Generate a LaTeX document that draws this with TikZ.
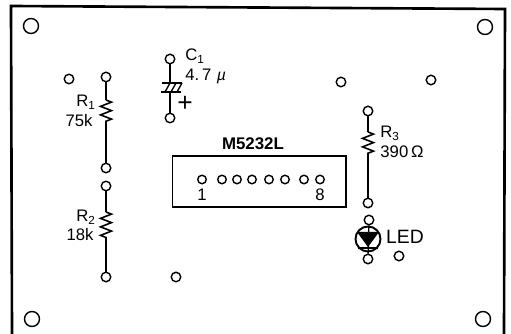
\documentclass[tikz,border=0pt]{standalone}
\usepackage{fontspec}
\setmainfont{Liberation Sans}
\usetikzlibrary{decorations.pathmorphing}
\tikzset{
  pad/.style={circle,draw,line width=0.8pt,inner sep=0pt,minimum size=0.19cm},
  hole/.style={circle,draw,line width=0.8pt,inner sep=0pt,minimum size=0.3cm},
  wire/.style={line width=0.8pt},
  zig/.style={line width=0.9pt,decorate,decoration={zigzag,amplitude=0.11cm,segment length=0.17cm}},
  lbl/.style={inner sep=0pt,font=\fontsize{9.5}{10}\selectfont}
}
\begin{document}
\begin{tikzpicture}[x=0.02cm,y=-0.02cm]
\useasboundingbox (0,0) rectangle (511,334);

%board outline
\coordinate (bl) at (12,334);
\coordinate (tl) at (11,6);
\coordinate (tr) at (505,9);
\coordinate (br) at (504,334);
\draw[line width=1.5pt] (bl) -- (tl) -- (tr) -- (br);

%corner holes
\node [hole] (h1) at (31,26) {};
\node [hole] (h2) at (485,27) {};
\node [hole] (h3) at (32,319) {};
\node [hole] (h4) at (483,319) {};

%free pads
\node [pad] (p1) at (69,79) {};
\node [pad] (p2) at (176,277) {};
\node [pad] (p3) at (341,82) {};
\node [pad] (p4) at (431,80) {};
\node [pad] (p5) at (399,256) {};

%R1
\node [pad] (r1t) at (106,77) {};
\node [pad] (r1b) at (106,168) {};
\coordinate (r1a) at (106,100);
\coordinate (r1c) at (106,125);
\draw[wire] (r1t) -- (r1a);
\draw[zig] (r1a) -- (r1c);
\draw[wire] (r1c) -- (r1b);
\node [lbl] (r1n) at (86,102) {R\textsubscript{1}};
\node [lbl] (r1v) at (79,121) {75k};

%R2
\node [pad] (r2t) at (106,186) {};
\node [pad] (r2b) at (106,277) {};
\coordinate (r2a) at (106,212);
\coordinate (r2c) at (106,240);
\draw[wire] (r2t) -- (r2a);
\draw[zig] (r2a) -- (r2c);
\draw[wire] (r2c) -- (r2b);
\node [lbl] (r2n) at (86,217) {R\textsubscript{2}};
\node [lbl] (r2v) at (80,235) {18k};

%R3
\node [pad] (r3t) at (368,111) {};
\node [pad] (r3b) at (368,203) {};
\coordinate (r3a) at (368,132);
\coordinate (r3c) at (368,157);
\draw[wire] (r3t) -- (r3a);
\draw[zig] (r3a) -- (r3c);
\draw[wire] (r3c) -- (r3b);
\node [lbl] (r3n) at (390,133) {R\textsubscript{3}};
\node [lbl] (r3v) at (402,152) {390\,Ω};

%C1
\node [pad] (c1t) at (170,59) {};
\node [pad] (c1b) at (170,118) {};
\coordinate (c1u) at (170,83);
\coordinate (c1l) at (170,92);
\draw[wire] (c1t) -- (c1u);
\draw[wire] (c1l) -- (c1b);
\draw[line width=1pt] (162,83) -- (182,83);
\draw[line width=1pt] (161,92) -- (181,92);
\draw[wire] (165,92) -- (170,83) (171,92) -- (176,83) (177,92) -- (182,83);
\node [lbl] (c1n) at (195,56) {C\textsubscript{1}};
\node [lbl,anchor=west] (c1v) at (185,76) {4.\,7\,\,{\itshape\small µ}};
\node [lbl,font=\fontsize{15}{15}\selectfont] (c1p) at (185,104) {+};

%M5232L
\node [lbl,font=\bfseries\fontsize{9.6}{10}\selectfont] (ic) at (253,144) {M5232L};
\draw[line width=0.9pt] (172.5,156) rectangle (346,207);
\foreach \i/\x in {1/202,2/222,3/237,4/252,5/269,6/285,7/304,8/320}
  \node [pad,minimum size=0.17cm] (u\i) at (\x,179.5) {};
\node [lbl] (n1) at (202,195) {1};
\node [lbl] (n8) at (320,195) {8};

%LED
\node [pad] (dt) at (369,220) {};
\node [pad] (db) at (368,259) {};
\node [circle,draw,line width=1.1pt,inner sep=0pt,minimum size=0.5cm] (d) at (368,239) {};
\draw[wire] (dt) -- (db);
\fill (357,232) -- (379,232) -- (368,247) -- cycle;
\draw[line width=1pt] (358,248) -- (378,248);
\node [lbl,font=\fontsize{11}{12}\selectfont] (dn) at (405,237) {LED};

\end{tikzpicture}
\end{document}
